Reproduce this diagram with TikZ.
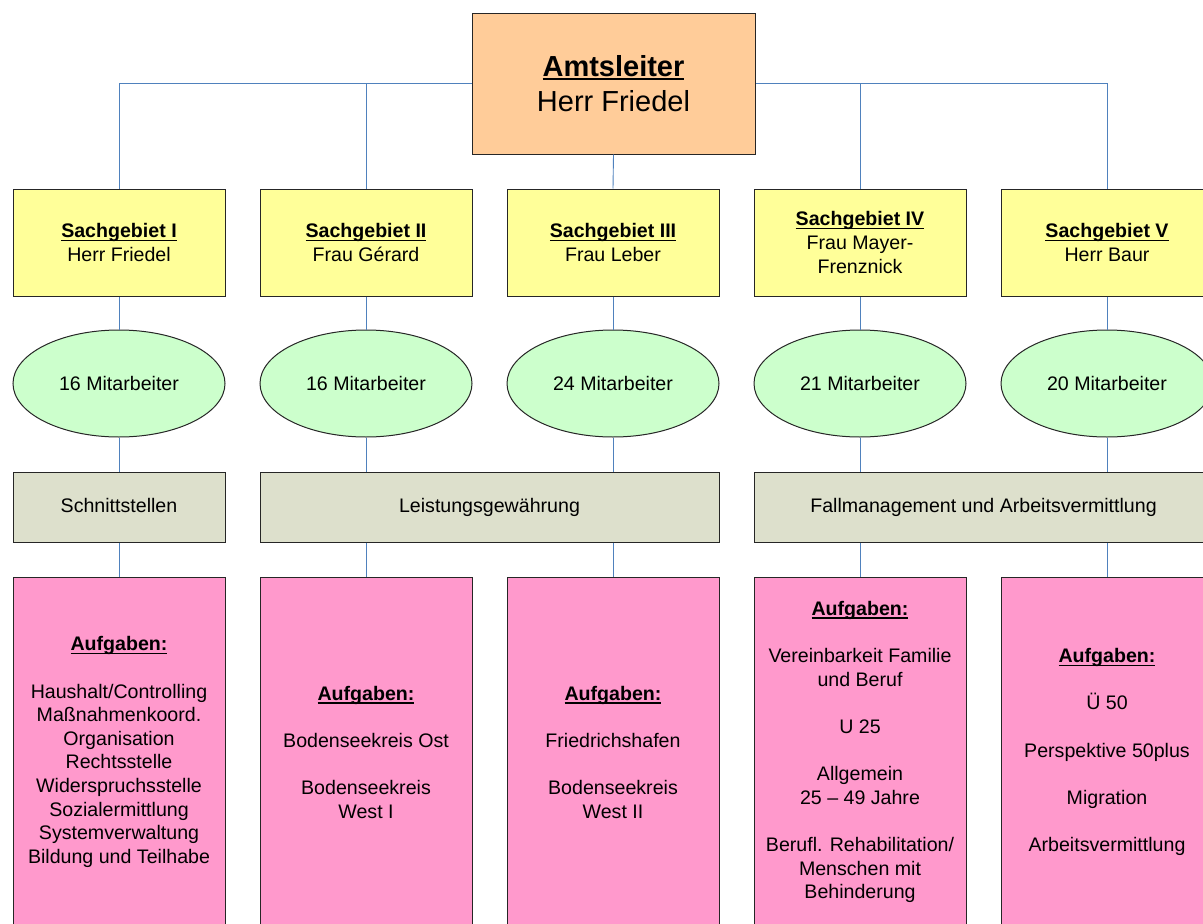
\documentclass[tikz,border=0pt]{standalone}
\usepackage{fontspec}
\setmainfont{Liberation Sans}
\usetikzlibrary{shapes.geometric}

\newsavebox{\ulheadbox}
\newcommand{\ulhead}[1]{\sbox{\ulheadbox}{\textbf{#1}}%
  \rlap{\rule[-3.5pt]{\wd\ulheadbox}{1.5pt}}\usebox{\ulheadbox}}

\definecolor{peach}{RGB}{255,204,153}
\definecolor{paleyellow}{RGB}{255,255,153}
\definecolor{palegreen}{RGB}{204,255,204}
\definecolor{greige}{RGB}{221,224,204}
\definecolor{rose}{RGB}{255,153,204}
\definecolor{linkblue}{RGB}{79,129,189}

\begin{document}
\begin{tikzpicture}[x=1pt,y=-1pt,
    box/.style={draw=black!85, line width=1pt, inner sep=0pt, align=center,
      font=\fontsize{19.6}{23.6}\selectfont},
    chief/.style={box, fill=peach, minimum width=283, minimum height=141,
      font=\fontsize{29}{35}\selectfont},
    area/.style={box, fill=paleyellow, minimum width=212, minimum height=107},
    staff/.style={box, ellipse, fill=palegreen, minimum width=212, minimum height=107},
    unit/.style={box, fill=greige, minimum height=70, text height=14pt, text depth=4pt},
    tasks/.style={box, fill=rose, minimum width=212, minimum height=350},
    link/.style={draw=linkblue, line width=0.9pt}]

		\useasboundingbox (0,0) rectangle (1203,924);

		% Leitung
		\node[chief] (amt) at (613.5,83.5) {\ulhead{Amtsleiter}\\Herr Friedel};

		% Sachgebiete
		\node[area] (sg1) at (119,242.5) {\ulhead{Sachgebiet I}\\Herr Friedel};
		\node[area] (sg2) at (366,242.5) {\ulhead{Sachgebiet II}\\Frau Gérard};
		\node[area] (sg3) at (613,242.5) {\ulhead{Sachgebiet III}\\Frau Leber};
		\node[area] (sg4) at (860,242.5) {\ulhead{Sachgebiet IV}\\Frau Mayer-\\Frenznick};
		\node[area] (sg5) at (1107,242.5) {\ulhead{Sachgebiet V}\\Herr Baur};

		% Mitarbeiter
		\node[staff] (ma1) at (119,383.5) {16 Mitarbeiter};
		\node[staff] (ma2) at (366,383.5) {16 Mitarbeiter};
		\node[staff] (ma3) at (613,383.5) {24 Mitarbeiter};
		\node[staff] (ma4) at (860,383.5) {21 Mitarbeiter};
		\node[staff] (ma5) at (1107,383.5) {20 Mitarbeiter};

		% Bereiche
		\node[unit, minimum width=212] (sst) at (119,507) {Schnittstellen};
		\node[unit, minimum width=459] (lg) at (489.5,507) {Leistungsgewährung};
		\node[unit, minimum width=459] (fm) at (983.5,507) {Fallmanagement und Arbeitsvermittlung};

		% Aufgaben
		\node[tasks] (ag1) at (119,752) {\ulhead{Aufgaben:}\\[23.6pt]
		  Haushalt/Controlling\\Maßnahmenkoord.\\Organisation\\Rechtsstelle\\
		  Widerspruchsstelle\\Sozialermittlung\\Systemverwaltung\\Bildung und Teilhabe};
		\node[tasks] (ag2) at (366,752) {\ulhead{Aufgaben:}\\[23.6pt]
		  Bodenseekreis Ost\\[23.6pt]Bodenseekreis\\West I};
		\node[tasks] (ag3) at (613,752) {\ulhead{Aufgaben:}\\[23.6pt]
		  Friedrichshafen\\[23.6pt]Bodenseekreis\\West II};
		\node[tasks] (ag4) at (860,752) {\ulhead{Aufgaben:}\\[23.6pt]
		  Vereinbarkeit Familie\\und Beruf\\[23.6pt]U 25\\[23.6pt]Allgemein\\25 – 49 Jahre\\[23.6pt]
		  Berufl. Rehabilitation/\\Menschen mit\\Behinderung};
		\node[tasks] (ag5) at (1107,752) {\ulhead{Aufgaben:}\\[23.6pt]
		  Ü 50\\[23.6pt]Perspektive 50plus\\[23.6pt]Migration\\[23.6pt]Arbeitsvermittlung};

		% Verbindungen
		\draw[link] (sg1.north) |- (amt.west);
		\draw[link] (sg2.north) |- (amt.west);
		\draw[link] (amt.south) -- (sg3.north);
		\draw[link] (sg4.north) |- (amt.east);
		\draw[link] (sg5.north) |- (amt.east);
		\foreach \i in {1,...,5}
		  \draw[link] (sg\i.south) -- (ma\i.north);
		\draw[link] (ma1.south) -- (sst.north);
		\draw[link] (ma2.south) -- (ma2.south |- lg.north);
		\draw[link] (ma3.south) -- (ma3.south |- lg.north);
		\draw[link] (ma4.south) -- (ma4.south |- fm.north);
		\draw[link] (ma5.south) -- (ma5.south |- fm.north);
		\draw[link] (sst.south) -- (ag1.north);
		\draw[link] (ag2.north |- lg.south) -- (ag2.north);
		\draw[link] (ag3.north |- lg.south) -- (ag3.north);
		\draw[link] (ag4.north |- fm.south) -- (ag4.north);
		\draw[link] (ag5.north |- fm.south) -- (ag5.north);
\end{tikzpicture}
\end{document}
